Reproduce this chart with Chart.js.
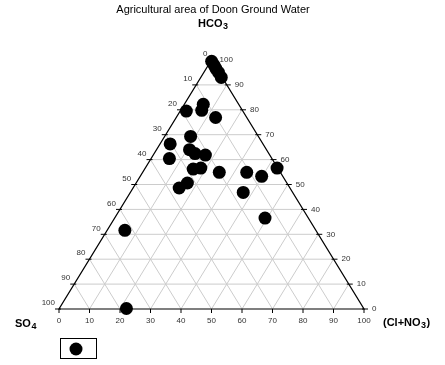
<!doctype html><html lang="en"><head>
<meta charset="UTF-8"><title>Agricultural area of Doon Ground Water</title>
<script src="https://cdn.jsdelivr.net/npm/chart.js"></script>
<style>
 body{margin:0;background:#fff}
 #wrap{width:445px;height:365px}
</style></head><body>
<div id="wrap"><canvas id="tern" width="445" height="365"></canvas></div>
<script>
// ----- ternary data (percent) -----
const titleText = 'Agricultural area of Doon Ground Water';
const tickVals  = [0,10,20,30,40,50,60,70,80,90,100];
// Cl+NO3 and HCO3 of each sample, SO4 is the rest
const clno3 = [0.3,1.8,3.2,4.8,6.7, 6.2,2.0,6.9,12.9, 8.5,3.3,10.8,13.4,17.1,6.0, 15.9,18.2,25.1,34.1,39.8,43.2, 16.8,15.1,37.0,49.3, 5.8,22.0];
const hco3  = [99.5,98,96.5,95,93, 82.2,79.5,79.8,76.9, 69.3,66.3,64.0,62.4,61.8,60.4, 56.2,56.6,54.9,54.9,53.3,56.6, 50.6,48.6,46.8,36.5, 31.6,0.2];

// ternary -> plot coords (x along the base, y = HCO3 height)
const pts = clno3.map((c,i)=>({x:c+hco3[i]/2, y:hco3[i]}));

const FONT = '"Liberation Sans", Arial, sans-serif';

const ternPlugin = {
  id:'tern',
  beforeDatasetsDraw(chart){
    const {ctx, scales:{x,y}} = chart;
    const P = (cx,cy)=>[x.getPixelForValue(cx), y.getPixelForValue(cy)];
    ctx.save();
    // grid lines, 3 directions
    ctx.strokeStyle='#cccccc'; ctx.lineWidth=1;
    ctx.beginPath();
    for(const v of tickVals.slice(1,-1)){
      // constant HCO3
      let a=P(v/2,v), b=P(100-v/2,v);
      ctx.moveTo(a[0],a[1]); ctx.lineTo(b[0],b[1]);
      // constant Cl
      a=P(v,0); b=P(v+(100-v)/2,100-v);
      ctx.moveTo(a[0],a[1]); ctx.lineTo(b[0],b[1]);
      // constant SO4
      a=P(100-v,0); b=P((100-v)/2,100-v);
      ctx.moveTo(a[0],a[1]); ctx.lineTo(b[0],b[1]);
    }
    ctx.stroke();
    // frame
    const L=P(0,0), R=P(100,0), T=P(50,100);
    ctx.strokeStyle='#000'; ctx.lineWidth=1.2;
    ctx.beginPath(); ctx.moveTo(L[0],L[1]); ctx.lineTo(R[0],R[1]); ctx.lineTo(T[0],T[1]); ctx.closePath(); ctx.stroke();
    // ticks + labels
    ctx.lineWidth=1; ctx.fillStyle='#333'; ctx.font='8px '+FONT;
    for(const v of tickVals){
      // bottom: Cl+NO3
      let p=P(v,0);
      ctx.beginPath(); ctx.moveTo(p[0],p[1]); ctx.lineTo(p[0],p[1]+4); ctx.stroke();
      ctx.textAlign='center'; ctx.textBaseline='middle';
      ctx.fillText(String(v), p[0], p[1]+12);
      // right: HCO3
      p=P(100-v/2,v);
      ctx.beginPath(); ctx.moveTo(p[0]-2,p[1]); ctx.lineTo(p[0]+4,p[1]); ctx.stroke();
      ctx.textAlign='left';
      ctx.fillText(String(v), p[0]+8, p[1]);
      // left: SO4 (0 at apex)
      p=P((100-v)/2,100-v);
      ctx.beginPath(); ctx.moveTo(p[0]+2,p[1]); ctx.lineTo(p[0]-4,p[1]); ctx.stroke();
      ctx.textAlign='right';
      ctx.fillText(String(v), p[0]-4, p[1]-6);
    }
    ctx.restore();
  },
  afterDraw(chart){
    const {ctx}=chart;
    ctx.save();
    ctx.fillStyle='#000';
    ctx.font='11px '+FONT; ctx.textAlign='center'; ctx.textBaseline='middle';
    ctx.fillText(titleText, 213, 10);
    const sub=(main,s,xl,yc)=>{
      ctx.font='bold 11px '+FONT; ctx.textAlign='left';
      ctx.fillText(main,xl,yc);
      const w=ctx.measureText(main).width;
      ctx.font='bold 9px '+FONT;
      ctx.fillText(s,xl+w+0.5,yc+3);
      return xl+w+0.5+ctx.measureText(s).width;
    };
    sub('HCO','3',198,24);
    sub('SO','4',15,324);
    const e=sub('(Cl+NO','3',383,323);
    ctx.font='bold 11px '+FONT; ctx.fillText(')',e+0.5,323);
    // legend box
    ctx.strokeStyle='#000'; ctx.lineWidth=1;
    ctx.strokeRect(60.5,338.5,36,20);
    ctx.beginPath(); ctx.arc(76,349,6.5,0,Math.PI*2); ctx.fill();
    ctx.restore();
  }
};

new Chart(document.getElementById('tern'),{
  type:'scatter',
  data:{datasets:[{label:'Agricultural', data:pts,
    backgroundColor:'#000', borderColor:'#000', pointRadius:6.5, pointHoverRadius:6.5, borderWidth:0, clip:false}]},
  options:{responsive:false, animation:false,
    layout:{padding:{left:59, right:81, top:60, bottom:56}},
    plugins:{legend:{display:false}, title:{display:false}, tooltip:{enabled:false}},
    scales:{
      x:{type:'linear', min:0, max:100, display:false},
      y:{type:'linear', min:0, max:100, display:false}
    }},
  plugins:[ternPlugin]
});
</script>
</body></html>
